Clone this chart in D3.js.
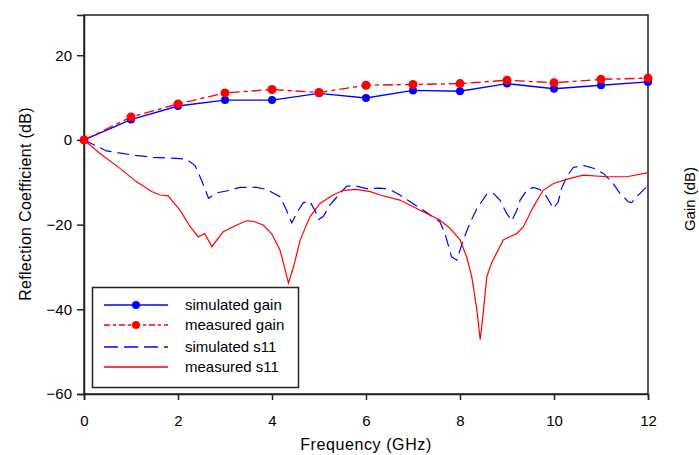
<!DOCTYPE html>
<html><head><meta charset="utf-8">
<script src="https://cdn.jsdelivr.net/npm/d3@7"></script>
<style>
body{margin:0;background:#fff;}
text{font-family:Arial,"Liberation Sans",sans-serif;fill:#000;}
</style></head>
<body><svg id="chart" width="699" height="455"></svg>
<script>
// ---- data ----
const gainFreq = [0,1,2,3,4,5,6,7,8,9,10,11,12];
const simGain  = [0,4.8,8.0,9.4,9.4,11.0,9.9,11.7,11.5,13.3,12.1,12.9,13.7];
const measGain = [0,5.4,8.5,11.1,11.9,11.2,12.9,13.1,13.3,14.1,13.5,14.3,14.6];

const simS11Freq = [0,0.48,1.05,1.47,2.04,2.18,2.36,2.50,2.65,2.82,3.11,3.32,3.67,3.89,4.17,4.31,4.42,4.56,4.67,4.81,4.91,4.99,5.09,5.23,5.45,5.59,5.80,6.01,6.30,6.51,6.72,6.94,7.22,7.57,7.68,7.82,7.93,8.07,8.21,8.36,8.57,8.71,8.85,8.99,9.10,9.21,9.28,9.42,9.56,9.70,9.84,9.99,10.09,10.16,10.27,10.41,10.62,10.84,11.05,11.26,11.40,11.58,11.65,11.76,11.97,12];
const simS11 = [0,-2.6,-3.6,-4.1,-4.4,-4.6,-6.0,-9.5,-13.8,-12.5,-11.9,-11.2,-11.2,-11.7,-13.4,-16.6,-19.6,-16.6,-14.8,-14.6,-16.6,-18.8,-18.1,-15.4,-12.6,-10.9,-10.9,-11.5,-11.4,-11.7,-13.0,-14.6,-16.6,-19.3,-22.1,-27.6,-28.4,-23.6,-19.7,-16.2,-12.8,-12.6,-14.2,-17.3,-19.1,-16.6,-14.2,-11.9,-11.2,-11.7,-13.4,-16.2,-14.6,-11.5,-8.7,-6.5,-6.0,-6.7,-7.9,-10.3,-12.6,-14.6,-14.8,-13.4,-11.1,-10.8];

const measS11Freq = [0,0.34,0.75,1.12,1.44,1.62,1.79,2.04,2.26,2.43,2.57,2.72,2.96,3.25,3.46,3.60,3.81,3.99,4.17,4.28,4.35,4.46,4.60,4.81,5.02,5.30,5.52,5.80,6.09,6.30,6.72,7.15,7.57,7.79,8.00,8.14,8.25,8.36,8.43,8.50,8.57,8.67,8.92,9.21,9.35,9.56,9.77,9.99,10.27,10.62,11.12,11.55,11.97,12];
const measS11 = [0,-3.2,-6.6,-9.9,-12.2,-13.0,-13.2,-16.6,-20.5,-22.9,-22.1,-25.2,-21.7,-20.1,-19.1,-19.2,-20.1,-22.1,-26.0,-30.7,-33.8,-29.9,-23.6,-18.1,-15.0,-13.0,-11.9,-11.7,-12.2,-13.0,-14.2,-16.6,-18.9,-20.9,-23.6,-27.6,-32.3,-40.2,-47.2,-40.2,-32.3,-29.1,-23.6,-22.1,-20.5,-15.8,-11.9,-10.3,-9.3,-8.3,-8.7,-8.7,-7.8,-7.7];

const xTicks = [0,2,4,6,8,10,12];
const yTicks = [-60,-40,-20,0,20];
const legendLabels = ["simulated gain","measured gain","simulated s11","measured s11"];

// ---- layout ----
const svg = d3.select("#chart");
const L = 84, R = 648, T = 15, B = 394;
const x = d3.scaleLinear().domain([0,12]).range([L,R]);
const y = d3.scaleLinear().domain([-60,29.5]).range([B,T]);

const BLUE = "#0000ff", RED = "#ff0000";

// frame
svg.append("rect").attr("x",L).attr("y",T).attr("width",R-L).attr("height",B-T)
  .attr("fill","none").attr("stroke","#222").attr("stroke-width",1.5);

// axes
const xAxis = svg.append("g").attr("transform",`translate(0,${B})`)
  .call(d3.axisBottom(x).tickValues(xTicks).tickSize(6).tickPadding(15).tickFormat(d3.format("d")));
const yAxis = svg.append("g").attr("transform",`translate(${L},0)`)
  .call(d3.axisLeft(y).tickValues(yTicks).tickSize(7).tickPadding(5).tickFormat(d3.format("d")));
[xAxis,yAxis].forEach(g=>{
  g.select(".domain").attr("stroke","#222").attr("stroke-width",1.5);
  g.selectAll(".tick line").attr("stroke","#222").attr("stroke-width",1.5);
  g.selectAll(".tick text").attr("font-size",15).attr("fill","#000")
   .style("font-family","Arial, 'Liberation Sans', sans-serif");
});

// titles
svg.append("text").attr("x",366).attr("y",450).attr("text-anchor","middle")
  .attr("font-size",16).attr("letter-spacing",0.6).text("Frequency (GHz)");
svg.append("text").attr("transform","translate(31,204) rotate(-90)").attr("text-anchor","middle")
  .attr("font-size",16).attr("letter-spacing",0.3).text("Reflection Coefficient (dB)");
svg.append("text").attr("transform","translate(695,199) rotate(-90)").attr("text-anchor","middle")
  .attr("font-size",15).text("Gain (dB)");

const line = d3.line().x(d=>x(d[0])).y(d=>y(d[1]));
const zip = (a,b)=>a.map((v,i)=>[v,b[i]]);

const plot = svg.append("g");
plot.append("path").datum(zip(simS11Freq,simS11)).attr("d",line)
  .attr("fill","none").attr("stroke",BLUE).attr("stroke-width",1.2).attr("stroke-dasharray","12,6");
plot.append("path").datum(zip(measS11Freq,measS11)).attr("d",line)
  .attr("fill","none").attr("stroke",RED).attr("stroke-width",1.2);
plot.append("path").datum(zip(gainFreq,simGain)).attr("d",line)
  .attr("fill","none").attr("stroke",BLUE).attr("stroke-width",1.4);
plot.append("path").datum(zip(gainFreq,measGain)).attr("d",line)
  .attr("fill","none").attr("stroke",RED).attr("stroke-width",1.4).attr("stroke-dasharray","10,4,4,4");
plot.selectAll(".sg").data(zip(gainFreq,simGain)).join("circle")
  .attr("cx",d=>x(d[0])).attr("cy",d=>y(d[1])).attr("r",4).attr("fill",BLUE);
plot.selectAll(".mg").data(zip(gainFreq,measGain)).join("circle")
  .attr("cx",d=>x(d[0])).attr("cy",d=>y(d[1])).attr("r",4.5).attr("fill",RED);

// legend
const lg = svg.append("g");
lg.append("rect").attr("x",92.5).attr("y",287.5).attr("width",206).attr("height",100)
  .attr("fill","#fff").attr("stroke","#222").attr("stroke-width",1.5);
const rowsY = [305,325,347,367];
const styles = [
  {c:BLUE,dash:null,m:true},
  {c:RED,dash:"6,3,3,3",m:true},
  {c:BLUE,dash:"14,6",m:false},
  {c:RED,dash:null,m:false}
];
legendLabels.forEach((lab,i)=>{
  const s = styles[i];
  lg.append("line").attr("x1",104).attr("x2",168).attr("y1",rowsY[i]).attr("y2",rowsY[i])
    .attr("stroke",s.c).attr("stroke-width",1.4).attr("stroke-dasharray",s.dash);
  if(s.m) lg.append("circle").attr("cx",136).attr("cy",rowsY[i]).attr("r",4).attr("fill",s.c);
  lg.append("text").attr("x",185).attr("y",rowsY[i]+5).attr("font-size",15).text(lab);
});
</script></body></html>
